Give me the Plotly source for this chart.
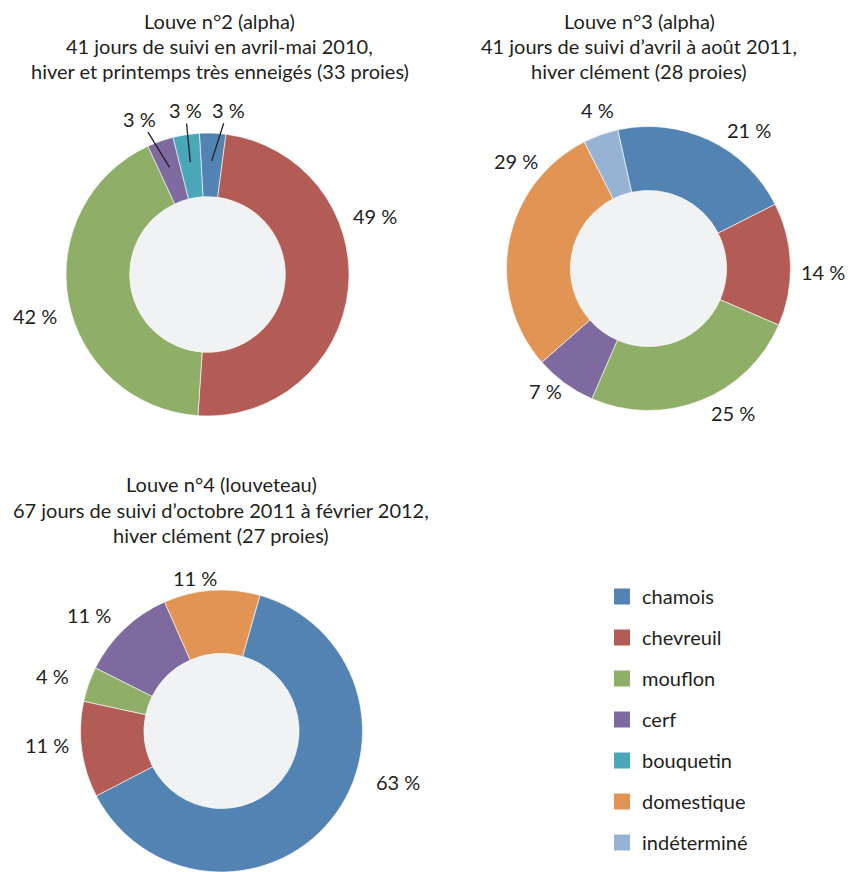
import math
import plotly.graph_objects as go

W, H = 853, 872

# -------------------------------
# Data
# -------------------------------
categories = ["chamois", "chevreuil", "mouflon", "cerf", "bouquetin", "domestique", "indéterminé"]
colors = ["#5283b3", "#b35c55", "#8fae68", "#7e6a9e", "#4aa7b8", "#e29455", "#97b3d4"]
cat_color = dict(zip(categories, colors))

labels_2 = ["chamois", "chevreuil", "mouflon", "cerf", "bouquetin"]
values_2 = [3, 49, 42, 3, 3]
title_2 = ["Louve n°2 (alpha)",
           "41 jours de suivi en avril-mai 2010,",
           "hiver et printemps très enneigés (33 proies)"]

labels_3 = ["chamois", "chevreuil", "mouflon", "cerf", "domestique", "indéterminé"]
values_3 = [21, 14, 25, 7, 29, 4]
title_3 = ["Louve n°3 (alpha)",
           "41 jours de suivi d’avril à août 2011,",
           "hiver clément (28 proies)"]

labels_4 = ["chamois", "chevreuil", "mouflon", "cerf", "domestique"]
values_4 = [63, 11, 4, 11, 11]
title_4 = ["Louve n°4 (louveteau)",
           "67 jours de suivi d’octobre 2011 à février 2012,",
           "hiver clément (27 proies)"]

# -------------------------------
# Layout helpers (pixel -> paper)
# -------------------------------
FONT = "Lato"
FS = 20
TXT = "#231f20"
HOLE = 0.55


def paper(x, y):
    return x / W, 1 - y / H


fig = go.Figure()


def add_donut(labels, values, title, cx, cy, r, rotation, title_x, title_ys,
              shifts, dists, leaders):
    x0, x1 = max(0, (cx - r) / W), min(1, (cx + r) / W)
    y0, y1 = max(0, 1 - (cy + r) / H), min(1, 1 - (cy - r) / H)
    fig.add_trace(go.Pie(
        labels=labels, values=values, sort=False, direction="clockwise",
        rotation=rotation, hole=HOLE, textinfo="none", hoverinfo="skip",
        marker=dict(colors=[cat_color[l] for l in labels], line=dict(color="white", width=0.6)),
        domain=dict(x=[x0, x1], y=[y0, y1]), showlegend=False,
    ))
    # grey centre
    rin = r * HOLE
    fig.add_shape(type="circle", xref="paper", yref="paper", layer="below",
                  x0=(cx - rin) / W, x1=(cx + rin) / W,
                  y0=1 - (cy + rin) / H, y1=1 - (cy - rin) / H,
                  fillcolor="#f0f2f4", line=dict(width=0))

    # percentage labels
    total = sum(values)
    start = rotation
    for v, sh, d, lead in zip(values, shifts, dists, leaders):
        span = 360 * v / total
        mid = start + span / 2
        start += span
        a = math.radians(mid + sh)
        lx, ly = cx + d * math.sin(a), cy - d * math.cos(a)
        txt = f"{v} %"
        if lead:
            m = math.radians(mid)
            tip_r = (r + r * HOLE) / 2 + 4
            tx, ty = cx + tip_r * math.sin(m), cy - tip_r * math.cos(m)
            px_, py_ = paper(tx, ty)
            fig.add_annotation(x=px_, y=py_, xref="paper", yref="paper", text=txt,
                               showarrow=True, arrowhead=0, arrowwidth=1.3, arrowcolor=TXT,
                               ax=lx - tx, ay=ly - ty, standoff=0,
                               font=dict(family=FONT, size=FS, color=TXT))
        else:
            px_, py_ = paper(lx, ly)
            fig.add_annotation(x=px_, y=py_, xref="paper", yref="paper", text=txt,
                               showarrow=False, xanchor="center", yanchor="middle",
                               font=dict(family=FONT, size=FS, color=TXT))

    for line, ty in zip(title, title_ys):
        px_, py_ = paper(title_x, ty)
        fig.add_annotation(x=px_, y=py_, xref="paper", yref="paper", text=line,
                           showarrow=False, xanchor="center", yanchor="middle",
                           font=dict(family=FONT, size=FS, color=TXT))


add_donut(labels_2, values_2, title_2, 207.5, 274.5, 141.5, -3.3, 220, [21, 46, 71],
          [5, -25, -3, -4, 1], [166, 177, 177, 170, 166], [True, False, False, True, True])
add_donut(labels_3, values_3, title_3, 648.5, 268.5, 142, -12.5, 639, [21, 46, 71],
          [10.7, 2.8, -8.8, 4, 28.2, 2], [171, 174.5, 167.5, 160, 171, 166.5], [False] * 6)
add_donut(labels_4, values_4, title_4, 221.5, 731, 141, 15.8, 221, [484, 509.5, 535],
          [-23.1, 2.9, -1.2, -5.3, -5.8], [184, 175.5, 177.5, 176, 155.5], [False] * 5)

# legend entries
for cat in categories:
    fig.add_trace(go.Scatter(
        x=[None], y=[None], mode="markers", name=cat, legendgroup=cat,
        marker=dict(symbol="square", size=16, color=cat_color[cat]),
        hoverinfo="skip",
    ))

fig.update_layout(
    width=W, height=H,
    margin=dict(l=0, r=0, t=0, b=0),
    paper_bgcolor="white", plot_bgcolor="rgba(0,0,0,0)",
    xaxis=dict(visible=False), yaxis=dict(visible=False),
    font=dict(family=FONT, size=FS, color=TXT),
    legend=dict(x=602 / W, y=1 - 577 / H, xanchor="left", yanchor="top",
                font=dict(family=FONT, size=FS, color=TXT),
                tracegroupgap=12, bgcolor="rgba(0,0,0,0)"),
)

fig.write_html("out.html", config={"displayModeBar": False},
               post_script="document.body.style.margin='0';")
